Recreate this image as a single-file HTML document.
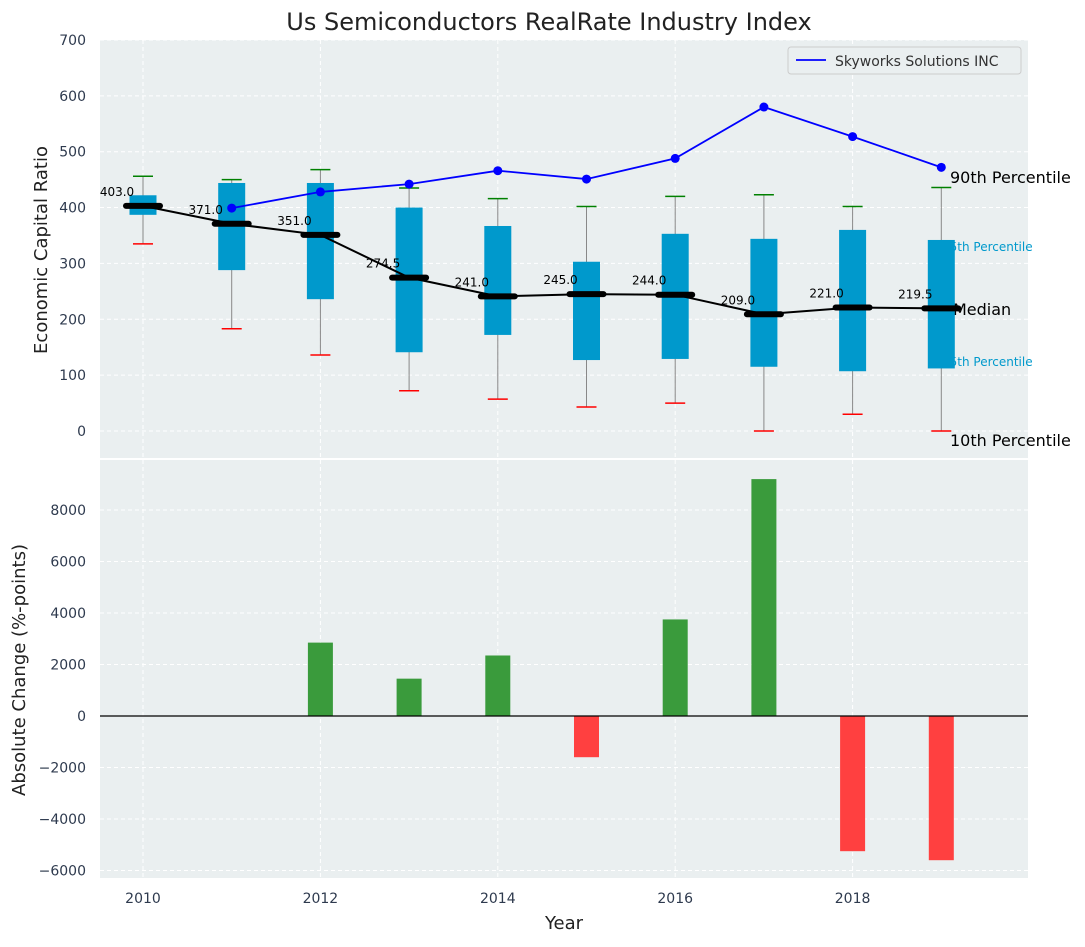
<!DOCTYPE html>
<html><head><meta charset="utf-8"><style>
body{margin:0;background:#fff;font-family:"Liberation Sans","DejaVu Sans",sans-serif}
svg text{font-family:"DejaVu Sans","Liberation Sans",sans-serif}
</style></head><body>
<svg id="c" width="1085" height="942" xmlns="http://www.w3.org/2000/svg"></svg>
<script>
const years=[2010,2011,2012,2013,2014,2015,2016,2017,2018,2019];
const q1=[387,288,236,141,172,127,129,115,107,112];
const q3=[422,444,444,400,367,303,353,344,360,342];
const wlo=[335,183,136,72,57,43,50,0,30,0];
const whi=[456,450,468,435,416,402,420,423,402,436];
const medians=[403,371,351,274.5,241,245,244,209,221,219.5];
const skyYears=[2011,2012,2013,2014,2015,2016,2017,2018,2019];
const skyVals=[399,428,442,466,451,488,580,527,472];
const chgYears=[2012,2013,2014,2015,2016,2017,2018,2019];
const chgVals=[2850,1450,2350,-1600,3750,9200,-5250,-5600];
const topTicks=[0,100,200,300,400,500,600,700];
const botTicks=[-6000,-4000,-2000,0,2000,4000,6000,8000];
const xTicks=[2010,2012,2014,2016,2018];

const NS="http://www.w3.org/2000/svg",svg=document.getElementById('c');
function el(t,a,txt){const e=document.createElementNS(NS,t);for(const k in a)e.setAttribute(k,a[k]);if(txt!==undefined)e.textContent=txt;svg.appendChild(e);return e;}
const L=100,R=1028,T1=40,B1=458,T2=460,B2=878;
const x=v=>143+(v-2010)*88.7;
const y1=v=>431-v*0.5586;
const y2=v=>716-v*0.02575;
const tc='#2e3a4e';

let e;
e=el('rect',{x:L,y:T1,width:R-L,height:B1-T1,fill:'#eaeff0'});

e=el('rect',{x:L,y:T2,width:R-L,height:B2-T2,fill:'#eaeff0'});

xTicks.forEach(t=>{
  [[T1,B1],[T2,B2]].forEach(r=>{e=el('line',{x1:x(t),x2:x(t),y1:r[0],y2:r[1],stroke:'#fff','stroke-dasharray':'4,3'});
  });
  e=el('text',{x:x(t),y:903,'text-anchor':'middle','font-size':14,fill:tc},t);
  
});
topTicks.forEach(t=>{
  e=el('line',{x1:L,x2:R,y1:y1(t),y2:y1(t),stroke:'#fff','stroke-dasharray':'4,3'});
  
  e=el('text',{x:86,y:y1(t)+5,'text-anchor':'end','font-size':14,fill:tc},t);
  
});
botTicks.forEach(t=>{
  e=el('line',{x1:L,x2:R,y1:y2(t),y2:y2(t),stroke:'#fff','stroke-dasharray':'4,3'});
  
  e=el('text',{x:86,y:y2(t)+5,'text-anchor':'end','font-size':14,fill:tc},String(t).replace('-','\u2212'));
  
});
const rl=[[950,183,'90th Percentile',16,'#000'],[942,251,'75th Percentile',12,'#0099cc'],[953,315,'Median',16,'#000'],[942,366,'25th Percentile',12,'#0099cc'],[950,446,'10th Percentile',16,'#000']];
rl.forEach(r=>{e=el('text',{x:r[0],y:r[1],'font-size':r[3],fill:r[4]},r[2]);
});
years.forEach((yr,i)=>{
  const cx=x(yr);
  e=el('line',{x1:cx,x2:cx,y1:y1(whi[i]),y2:y1(wlo[i]),stroke:'#888','stroke-width':1});
  
  e=el('line',{x1:cx-10,x2:cx+10,y1:y1(whi[i]),y2:y1(whi[i]),stroke:'green','stroke-width':1.5});
  
  e=el('line',{x1:cx-10,x2:cx+10,y1:y1(wlo[i]),y2:y1(wlo[i]),stroke:'red','stroke-width':1.5});
  
  e=el('rect',{x:cx-13.5,y:y1(q3[i]),width:27,height:y1(q1[i])-y1(q3[i]),fill:'#0099cc'});
  
});
e=el('polyline',{points:years.map((yr,i)=>x(yr)+','+y1(medians[i])).join(' '),fill:'none',stroke:'#000','stroke-width':2});

years.forEach((yr,i)=>{
  const cx=x(yr),cy=y1(medians[i]);
  e=el('line',{x1:cx-17,x2:cx+17,y1:cy,y2:cy,stroke:'#000','stroke-width':6,'stroke-linecap':'round'});
  
  e=el('text',{x:cx-26,y:cy-10,'text-anchor':'middle','font-size':12,fill:'#000'},medians[i].toFixed(1));
  
});
e=el('polyline',{points:skyYears.map((yr,i)=>x(yr)+','+y1(skyVals[i])).join(' '),fill:'none',stroke:'blue','stroke-width':1.8});

skyYears.forEach((yr,i)=>{e=el('circle',{cx:x(yr),cy:y1(skyVals[i]),r:4.5,fill:'blue'});
});
e=el('rect',{x:788,y:47,width:233,height:27,fill:'#eaeff0',stroke:'#ccc',rx:3});

e=el('line',{x1:796,x2:826,y1:60,y2:60,stroke:'blue','stroke-width':1.8});

e=el('text',{x:835,y:66,'font-size':14,fill:'#333'},'Skyworks Solutions INC');

chgYears.forEach((yr,i)=>{
  const v=chgVals[i],y0=y2(0),yv=y2(v);
  e=el('rect',{x:x(yr)-12.5,y:Math.min(y0,yv),width:25,height:Math.abs(yv-y0),fill:v>=0?'#3a9b3c':'#ff4040'});
  
});
e=el('line',{x1:L,x2:R,y1:y2(0),y2:y2(0),stroke:'#000','stroke-width':1.2});

e=el('text',{x:549,y:30,'text-anchor':'middle','font-size':24,fill:'#222'},'Us Semiconductors RealRate Industry Index');

e=el('text',{x:564,y:929,'text-anchor':'middle','font-size':18,fill:'#222'},'Year');

e=el('text',{x:0,y:0,'text-anchor':'middle','font-size':18,fill:'#222',transform:'translate(47,250) rotate(-90)'},'Economic Capital Ratio');

e=el('text',{x:0,y:0,'text-anchor':'middle','font-size':18,fill:'#222',transform:'translate(25,670) rotate(-90)'},'Absolute Change (%-points)');

</script>
</body></html>
